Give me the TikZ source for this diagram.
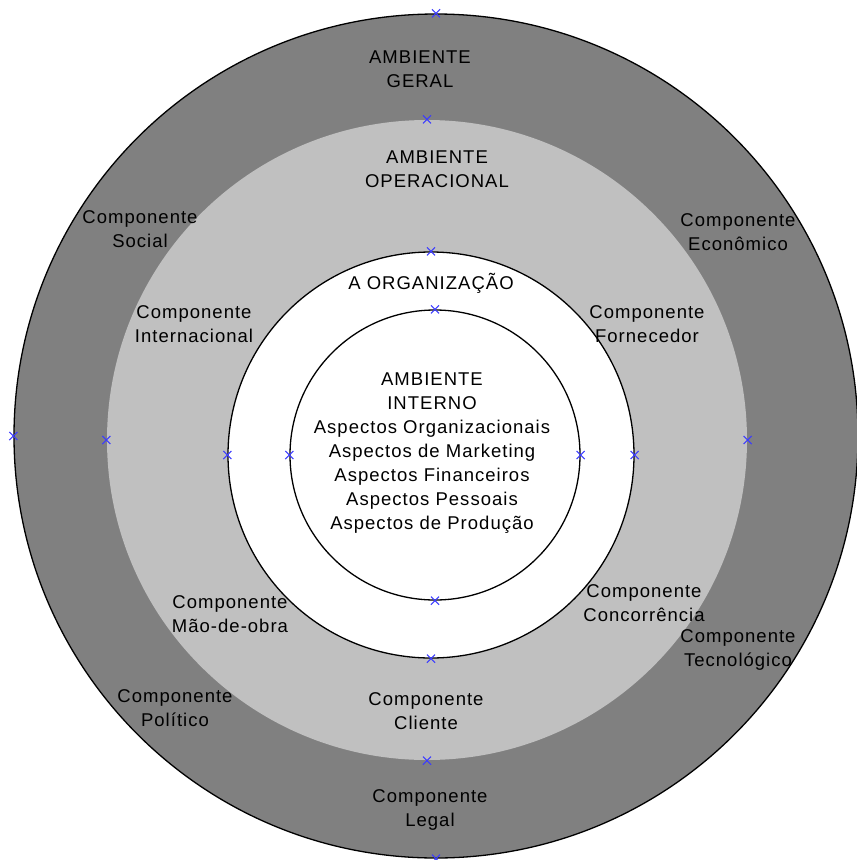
\documentclass[tikz,border=0pt]{standalone}
\usepackage{fontspec}
\setmainfont{Liberation Sans}[LetterSpace=5.5]
\usetikzlibrary{shapes.misc}
\definecolor{darkg}{HTML}{808080}
\definecolor{lightg}{HTML}{C0C0C0}
\definecolor{handle}{HTML}{3C3CFF}
\begin{document}
\begin{tikzpicture}[x=1pt,y=-1pt,
  ring/.style={circle,inner sep=0pt,line width=1.3pt},
  lbl/.style={align=center,inner sep=0pt,font=\fontsize{18.5}{24}\selectfont},
  xmark/.style={cross out,draw=handle,line width=1.1pt,minimum size=7pt,inner sep=0pt}]
\useasboundingbox (0,0) rectangle (857,860);
\clip (0,0) rectangle (857,860);
\fill[white] (0,0) rectangle (857,860);
\node[ring,draw=black,fill=darkg,minimum size=844pt] (outer) at (436,436) {};
\node[ring,fill=lightg,minimum size=640pt] (oper) at (427,440) {};
\node[ring,draw=black,fill=white,minimum size=406pt] (org) at (431,455) {};
\node[ring,draw=black,fill=white,minimum size=290pt] (int) at (435,455) {};
% handles
\foreach \a in {north,south,west}{\node[xmark] at (outer.\a) {};}
\foreach \c in {oper,org,int}{
  \foreach \a in {north,south,west,east}{
    \node[xmark] at (\c.\a) {};
  }
}
% labels
\node[lbl] (geral) at (420,69) {AMBIENTE\\GERAL};
\node[lbl] (operl) at (437,169) {AMBIENTE\\OPERACIONAL};
\node[lbl] (orgl) at (431,283) {A ORGANIZAÇÃO};
\node[lbl] (intl) at (432,453) {AMBIENTE\\INTERNO\\Aspectos Organizacionais\\Aspectos de Marketing\\Aspectos Financeiros\\Aspectos Pessoais\\Aspectos de Produção};
\node[lbl] (social) at (140,229) {Componente\\Social};
\node[lbl] (econ) at (738,232) {Componente\\Econômico};
\node[lbl] (inter) at (194,324) {Componente\\Internacional};
\node[lbl] (forn) at (647,324) {Componente\\Fornecedor};
\node[lbl] (mao) at (230,614) {Componente\\Mão-de-obra};
\node[lbl] (conc) at (644,603) {Componente\\Concorrência};
\node[lbl] (tec) at (738,650) {Componente\\Tecnológico};
\node[lbl] (pol) at (175,708) {Componente\\Político};
\node[lbl] (cli) at (426,711) {Componente\\Cliente};
\node[lbl] (legal) at (430,810) {Componente\\Legal};
\end{tikzpicture}
\end{document}
